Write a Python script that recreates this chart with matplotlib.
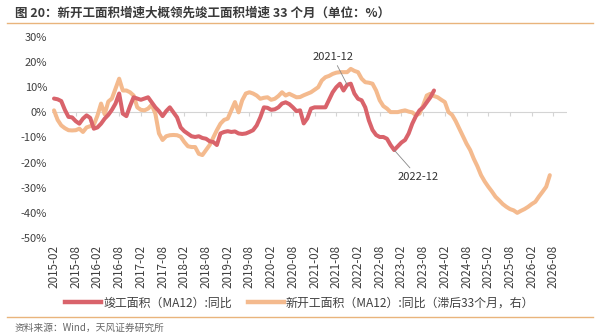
import numpy as np
import pandas as pd
import matplotlib
matplotlib.use("Agg")
from matplotlib import pyplot as plt
from matplotlib.lines import Line2D

plt.rcParams['font.family'] = ['Noto Sans CJK SC', 'DejaVu Sans']

# monthly axis starting 2015-02
months = pd.date_range("2015-02-01", periods=142, freq="MS").strftime("%Y-%m").tolist()

# 竣工面积(MA12) 同比, 2015-02 .. 2023-11
completed_yoy = [
    5.5, 5.2, 4.5, 1.0, -1.8, -2.0, -3.5, -4.5, -2.5, -1.2, -2.2, -6.5,
    -6.0, -4.5, -2.5, -1.0, 1.0, 3.5, 7.5, -0.5, -1.5, 2.5, 6.0, 5.5,
    5.0, 5.5, 6.0, 4.0, 2.0, 0.5, -1.5, 0.5, 2.0, 0.0, -2.0, -6.0,
    -7.5, -8.5, -9.5, -9.8, -9.5, -10.2, -10.5, -11.5, -11.8, -13.0, -8.4, -7.8,
    -7.5, -7.8, -7.6, -8.4, -8.6, -8.4, -7.8, -7.1, -5.2, -2.0, 2.0, 1.8,
    1.0, 1.2, 2.0, 3.5, 4.0, 3.3, 2.0, 0.5, 0.8, -4.4, -2.4, 1.5,
    2.0, 2.0, 2.0, 2.0, 5.0, 8.0, 10.0, 11.4, 8.7, 11.0, 11.4, 7.5,
    5.4, 4.8, 2.0, -3.2, -7.0, -9.0, -9.8, -9.8, -10.5, -13.0, -15.0, -13.5,
    -12.0, -11.0, -8.4, -4.5, -1.5, 0.8, 2.0, 4.0, 6.0, 8.7,
]

# 新开工面积(MA12) 同比, lagged 33 months, 2015-02 .. 2026-07
starts_yoy_lag33 = [
    0.8, -3.0, -5.2, -6.3, -7.1, -7.2, -7.1, -6.5, -7.8, -6.0, -5.5, -5.0,
    -1.3, 3.5, -0.8, 4.3, 5.5, 9.4, 13.4, 8.7, 8.7, 8.0, 6.7, 2.0,
    1.0, 0.8, 1.5, 3.0, -0.5, -8.4, -11.0, -9.5, -9.1, -9.0, -9.1, -9.7,
    -11.8, -13.5, -13.8, -13.8, -16.5, -17.0, -15.0, -13.0, -10.0, -7.1, -4.5, -3.0,
    -2.5, 0.8, 4.1, 0.0, 4.8, 7.5, 8.0, 7.5, 6.7, 5.4, 5.8, 6.0,
    5.0, 5.4, 6.5, 8.0, 6.7, 7.4, 6.7, 6.0, 6.1, 6.8, 7.4, 8.0,
    9.0, 10.0, 12.7, 14.0, 14.5, 15.3, 15.8, 16.0, 16.0, 16.0, 17.3, 16.5,
    16.0, 13.4, 12.0, 11.8, 11.4, 8.7, 4.8, 2.5, 1.5, 0.1, 0.1, 0.1,
    0.5, 0.8, 0.3, 0.0, -1.2, -0.5, 2.8, 6.7, 7.4, 6.5, 6.0, 5.0,
    4.1, 0.1, -1.0, -3.5, -6.5, -9.5, -12.5, -15.0, -18.5, -21.5, -25.0, -27.5,
    -29.6, -31.5, -33.6, -35.0, -36.5, -37.6, -38.5, -39.0, -40.0, -39.2, -38.5, -37.6,
    -36.5, -35.6, -33.5, -31.6, -29.6, -25.0,
]

yticks = [30, 20, 10, 0, -10, -20, -30, -40, -50]
label_every = 6
notes = ["2021-12", "2022-12"]

red = '#d9636b'
orange = '#f4ba8e'
text_col = '#404040'
rule_col = '#e9b47c'

fig = plt.figure(figsize=(6, 3.35), dpi=100)
ax = fig.add_axes([0.0867, 0.2896, 0.858, 0.60])

x_red = np.arange(len(completed_yoy))
x_org = np.arange(len(starts_yoy_lag33))
ax.axhline(0, color='#d4d4d4', lw=0.8, zorder=1)
tick_pos = np.arange(0, 139, label_every)
ax.plot(tick_pos, np.zeros(len(tick_pos)), ls='none', marker=3, ms=3,
        mec='#d4d4d4', mew=0.8, zorder=1)
ax.plot(x_org, starts_yoy_lag33, color=orange, lw=2.9, solid_capstyle='round',
        solid_joinstyle='round', zorder=2)
ax.plot(x_red, completed_yoy, color=red, lw=2.9, solid_capstyle='round',
        solid_joinstyle='round', zorder=3)

ax.set_xlim(-0.55, 141.7)
ax.set_ylim(-50, 30)
ax.set_yticks(yticks)
ax.set_yticklabels(['{}%'.format(v) for v in yticks])
ax.set_xticks(tick_pos)
ax.set_xticklabels([months[i] for i in tick_pos], rotation=90)
ax.tick_params(axis='y', length=0, pad=3.5, labelsize=8, labelcolor=text_col)
ax.tick_params(axis='x', length=0, pad=5, labelsize=8.4, labelcolor=text_col)
for s in ax.spines.values():
    s.set_visible(False)

# annotations
i1 = months.index(notes[0])
ax.annotate(notes[0], xy=(i1 - 1, completed_yoy[i1 - 1]), xytext=(i1 - 5, 22.2),
            ha='center', va='center', fontsize=8, color='#333333',
            arrowprops=dict(arrowstyle='-', color='#888888', lw=0.6, shrinkA=1, shrinkB=0))
i2 = months.index(notes[1])
ax.annotate(notes[1], xy=(i2, completed_yoy[i2]), xytext=(i2 + 6.5, -25.6),
            ha='center', va='center', fontsize=8, color='#333333',
            arrowprops=dict(arrowstyle='-', color='#888888', lw=0.6, shrinkA=1, shrinkB=0))

# legend
handles = [Line2D([], [], color=red, lw=3.2), Line2D([], [], color=orange, lw=3.2)]
labels = ['竣工面积（MA12）:同比', '新开工面积（MA12）:同比（滞后33个月，右）']
fig.legend(handles, labels, loc='center', bbox_to_anchor=(0.5, 0.095), ncol=2,
           frameon=False, fontsize=8.6, handlelength=3.0, handletextpad=0.2,
           columnspacing=1.3, labelcolor=text_col)

# title, rules, source
fig.text(0.025, 0.962, '图 20：新开工面积增速大概领先竣工面积增速 33 个月（单位：%）',
         fontsize=9, fontweight='bold', color='#3a3a3a', va='center', ha='left')
fig.add_artist(Line2D([0.012, 0.988], [0.931, 0.931], color=rule_col, lw=1.0))
fig.add_artist(Line2D([0.012, 0.988], [0.054, 0.054], color=rule_col, lw=1.0))
fig.text(0.025, 0.02, '资料来源：Wind，天风证券研究所', fontsize=7, color='#666666',
         va='center', ha='left')

fig.savefig('out.png', dpi=100)
